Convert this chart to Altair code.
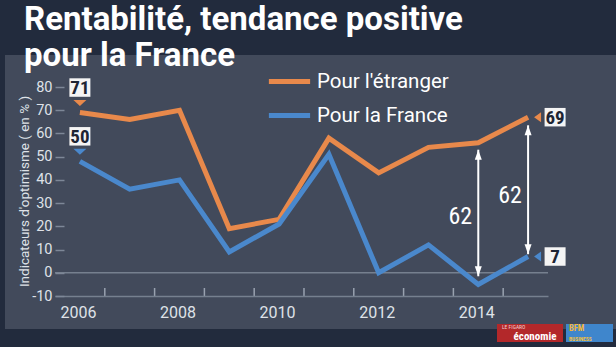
import altair as alt
import pandas as pd

# ---------------- data ----------------
years = [2006, 2007, 2008, 2009, 2010, 2011, 2012, 2013, 2014, 2015]
etranger = [69, 66, 70, 19, 23, 58, 43, 54, 56, 67]
france = [48, 36, 40, 9, 21, 51, 0, 12, -5, 7]
series_names = ["Pour l'étranger", "Pour la France"]

y_tick_values = [-10, 0, 10, 20, 30, 40, 50, 60, 70, 80]
x_label_years = [2006, 2008, 2010, 2012, 2014]
minor_tick_years = [2006.5, 2007.5, 2008.5, 2009.5, 2010.5, 2011.5, 2012.5, 2013.5, 2014.5]

start_badges = ["71", "50"]   # boxes at 2006
end_badges = ["69", "7"]      # boxes at 2015

gap_years = [2014, 2015]
gap_top = [53, 63.5]
gap_bottom = [-1.5, 8]
gap_text = ["62", "62"]
gap_text_y = [24, 33]

title_lines = ["Rentabilité, tendance positive", "pour la France"]
y_title = "Indicateurs d'optimisme ( en % )"

# ---------------- styles ----------------
FONT = "Roboto, sans-serif"
NARROW = "Liberation Sans Narrow, Roboto Condensed, DejaVu Sans Condensed, Roboto, sans-serif"
ORANGE = "#e8894b"
BLUE = "#4a88cc"
NAVY = "#222b3d"
PANEL = "#424a5b"
GRIDC = "#76808f"
LABELC = "#dfe2e8"

W, H = 493, 209
PAD_L, PAD_T = 55, 87

# ---------------- tables ----------------
df = pd.DataFrame({
    "year": years * 2,
    "value": etranger + france,
    "series": [series_names[0]] * len(years) + [series_names[1]] * len(years),
})
start_df = pd.DataFrame({
    "year": [years[0]] * 2,
    "value": [etranger[0], france[0]],
    "series": series_names,
    "label": start_badges,
})
end_df = pd.DataFrame({
    "year": [years[-1]] * 2,
    "value": [etranger[-1], france[-1]],
    "series": series_names,
    "label": end_badges,
})
gap_df = pd.DataFrame({
    "year": gap_years,
    "value": gap_top,
    "bottom": gap_bottom,
    "text": gap_text,
    "ty": gap_text_y,
})
minor_df = pd.DataFrame({"year": minor_tick_years,
                         "value": [y_tick_values[0]] * len(minor_tick_years)})
one = pd.DataFrame({"a": [0]})

xscale = alt.Scale(domain=[2005.5, 2015.4], nice=False, zero=False)
yscale = alt.Scale(domain=[-10, 80], nice=False, zero=False)
cscale = alt.Scale(domain=series_names, range=[ORANGE, BLUE])

x_axis = alt.Axis(values=x_label_years, format="d", title=None, grid=False,
                  ticks=False, labelPadding=8, labelFontSize=16, labelFont=FONT,
                  labelOffset=-2, labelColor=LABELC, domainColor=GRIDC, domainWidth=1.5,
                  zindex=1)
y_axis = alt.Axis(values=y_tick_values, title=y_title, grid=False, domain=False,
                  labelExpr="'' + datum.value",
                  offset=-9, tickSize=9, tickColor="#7d8797", tickWidth=1.5,
                  labelPadding=3, labelFontSize=14.5, labelFont=FONT, labelColor=LABELC,
                  titleFont=FONT, titleFontSize=13.5, titleFontWeight="normal",
                  titleColor=LABELC, titleX=-40, titleY=104, titleBaseline="middle",
                  zindex=1)

X = alt.X("year:Q", scale=xscale, axis=x_axis)
Y = alt.Y("value:Q", scale=yscale, axis=y_axis)

# background panel (decoration)
panel = alt.Chart(one).mark_rect(color=PANEL).encode(
    x=alt.value(-50), x2=alt.value(561), y=alt.value(-32), y2=alt.value(242)
)

zero_line = alt.Chart(one).mark_rule(color=GRIDC, strokeWidth=1.5).encode(
    y=alt.datum(0, type="quantitative", scale=yscale, axis=y_axis)
)

# small upward ticks between the years, drawn as stroked symbols standing on the base line
minor = alt.Chart(minor_df).mark_point(shape="M0,0L0,-2", size=64, filled=False, opacity=1,
                                       strokeWidth=1.5, color="#99a2b0").encode(x=X, y=Y)

lines = alt.Chart(df).mark_line(strokeWidth=5, strokeJoin="miter").encode(
    x=X, y=Y,
    color=alt.Color("series:N", scale=cscale, sort=series_names,
                    legend=alt.Legend(title=None, orient="none", legendX=211, legendY=-29,
                                      symbolType="stroke", symbolStrokeWidth=5, symbolSize=1700,
                                      labelFontSize=20.5, labelFont=FONT, labelColor="white",
                                      labelOffset=4, rowPadding=-7)),
    order="year:Q",
)

BOX = "M-2.1,-1.85L2.1,-1.85L2.1,1.85L-2.1,1.85Z"
TRI_DOWN = "M-1.3,-0.6L1.3,-0.6L0,0.6Z"
TRI_LEFT = "M0.7,-1L0.7,1L-0.7,0Z"
HEAD_UP = "M0,0L0.7,2L-0.7,2Z"
HEAD_DOWN = "M0,0L0.7,-2L-0.7,-2Z"

start_tri = alt.Chart(start_df).mark_point(shape=TRI_DOWN, size=100, filled=True, opacity=1,
                                           yOffset=-9.5).encode(
    x=X, y=Y, color=alt.Color("series:N", scale=cscale, legend=None))
start_box = alt.Chart(start_df).mark_point(shape=BOX, size=100, filled=True, opacity=1,
                                           color="#f4f4f4", yOffset=-25).encode(x=X, y=Y)
start_txt = alt.Chart(start_df).mark_text(font=NARROW, fontSize=19, fontWeight="bold",
                                          color="#1d2433", yOffset=-24.5).encode(
    x=X, y=Y, text="label:N")

end_tri = alt.Chart(end_df).mark_point(shape=TRI_LEFT, size=100, filled=True, opacity=1,
                                       xOffset=9.5).encode(
    x=X, y=Y, color=alt.Color("series:N", scale=cscale, legend=None))
end_box = alt.Chart(end_df).mark_point(shape=BOX, size=100, filled=True, opacity=1,
                                       color="#f4f4f4", xOffset=27).encode(x=X, y=Y)
end_txt = alt.Chart(end_df).mark_text(font=NARROW, fontSize=19, fontWeight="bold",
                                      color="#1d2433", xOffset=27, yOffset=0.5).encode(
    x=X, y=Y, text="label:N")

gap_rule = alt.Chart(gap_df).mark_rule(color="white", strokeWidth=2).encode(
    x=X, y=Y, y2="bottom:Q")
gap_head_top = alt.Chart(gap_df).mark_point(shape=HEAD_UP, size=100, filled=True, opacity=1,
                                            color="white").encode(x=X, y=Y)
gap_head_bot = alt.Chart(gap_df).mark_point(shape=HEAD_DOWN, size=100, filled=True, opacity=1,
                                            color="white").encode(
    x=X, y=alt.Y("bottom:Q", scale=yscale, axis=y_axis))
gap_lbl = alt.Chart(gap_df).mark_text(font=NARROW, fontSize=24, color="white", dx=-18).encode(
    x=X, y=alt.Y("ty:Q", scale=yscale, axis=y_axis), text="text:N")

# logos (decoration)
logo1 = alt.Chart(one).mark_rect(color="#b3282a").encode(
    x=alt.value(442), x2=alt.value(508), y=alt.value(237), y2=alt.value(255))
logo1a = alt.Chart(one).mark_text(text="LE FIGARO", font=NARROW, fontSize=5.5, color="#f0d0d0",
                                  align="left", baseline="middle").encode(
    x=alt.value(447), y=alt.value(240))
logo1b = alt.Chart(one).mark_text(text="économie", font=NARROW, fontSize=11, fontWeight="bold",
                                  color="white", align="center", baseline="middle").encode(
    x=alt.value(480), y=alt.value(249.5))
logo2 = alt.Chart(one).mark_rect(color="#3f86cc").encode(
    x=alt.value(511), x2=alt.value(558), y=alt.value(237), y2=alt.value(255))
logo2a = alt.Chart(one).mark_text(text="BFM", font=NARROW, fontSize=8.5, fontWeight="bold",
                                  color="#f0b43a", align="left", baseline="middle").encode(
    x=alt.value(514), y=alt.value(241))
logo2b = alt.Chart(one).mark_text(text="BUSINESS", font=NARROW, fontSize=5.5, fontWeight="bold",
                                  color="#f0c040", align="left", baseline="middle").encode(
    x=alt.value(514), y=alt.value(252))

chart = alt.layer(
    panel, zero_line, minor, lines,
    gap_rule, gap_head_top, gap_head_bot, gap_lbl,
    start_tri, start_box, start_txt, end_tri, end_box, end_txt,
    logo1, logo1a, logo1b, logo2, logo2a, logo2b,
).properties(
    width=W, height=H,
    padding={"left": PAD_L, "top": PAD_T, "right": 616 - PAD_L - W, "bottom": 347 - PAD_T - H},
    autosize=alt.AutoSizeParams(type="none"),
    background=NAVY,
    title=alt.TitleParams(text=title_lines, anchor="start", frame="group", font=FONT,
                          fontSize=33, fontWeight="bold", color="white", lineHeight=36,
                          baseline="top", dx=-31, dy=22),
).configure_view(stroke=None)

chart.save("out.html", embed_options={"renderer": "svg", "actions": False})
